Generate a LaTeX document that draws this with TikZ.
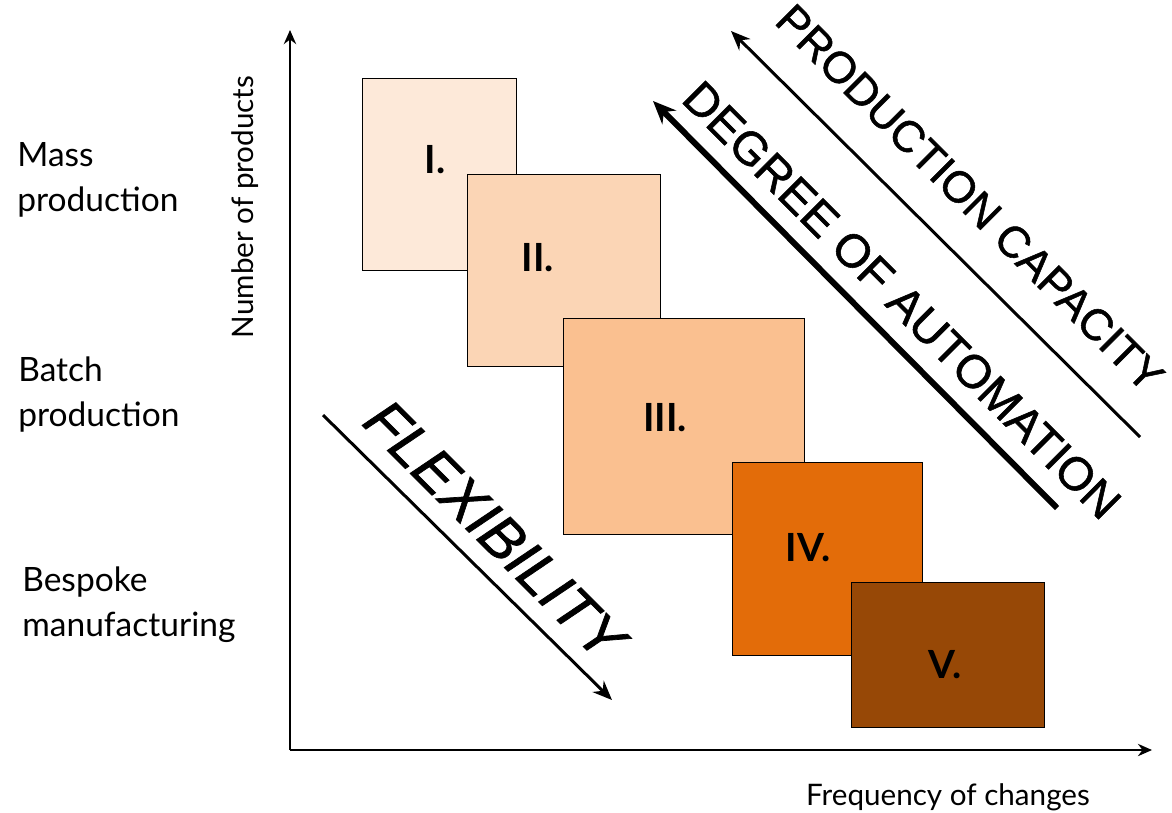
\documentclass[tikz,border=0pt]{standalone}
\usepackage{fontspec}
\setmainfont{Liberation Sans}
\newfontfamily\labelfont{Lato}
\newfontfamily\trenfont[FakeBold=1.2]{Liberation Sans}
\usetikzlibrary{arrows.meta, positioning}
\definecolor{faseA}{HTML}{FDE9D9}
\definecolor{faseB}{HTML}{FBD5B5}
\definecolor{faseC}{HTML}{FAC090}
\definecolor{faseD}{HTML}{E36C09}
\definecolor{faseE}{HTML}{974806}

\begin{document}
\begin{tikzpicture}[
  x=0.567pt, y=-0.567pt,
  fase/.style={draw, line width=0.6pt, anchor=north west, inner sep=0pt},
  nomor/.style={font=\labelfont\bfseries\fontsize{22}{26}\selectfont},
  jenis/.style={anchor=west, align=left, inner sep=0pt,
    font=\labelfont\fontsize{19}{25.5}\selectfont},
  judulSumbu/.style={font=\labelfont\fontsize{16.8}{19}\selectfont},
  miring/.style={rotate=-45, inner sep=0pt},
  sumbu/.style={-{Stealth[length=8pt,width=7pt]}, line width=1.1pt},
  panah/.style={-{Stealth[length=11pt,width=9pt]}, line width=1.7pt},
  panahTebal/.style={-{Stealth[length=13pt,width=11pt]}, line width=3.4pt}
]
  \useasboundingbox (0,0) rectangle (1172,812);

  % axes
  \coordinate (asal) at (290,750);
  \coordinate (ujungY) at (290,30);
  \coordinate (ujungX) at (1152,750);
  \draw[sumbu] (asal) -- (ujungY);
  \draw[sumbu] (asal) -- (ujungX);
  \node[judulSumbu, rotate=90] (sumbuY) at (245,207) {Number of products};
  \node[judulSumbu] (sumbuX) at (948,797) {Frequency of changes};

  % production types
  \node[jenis] (massal) at (17,180) {Mass\\production};
  \node[jenis] (batch) at (18,395) {Batch\\production};
  \node[jenis] (pesanan) at (22,605) {Bespoke\\manufacturing};

  % phases
  \node[fase, fill=faseA, minimum width=87.3pt, minimum height=108.9pt] (f1) at (362,78) {};
  \node[nomor] at (435,160) {I.};
  \node[fase, fill=faseB, minimum width=109.4pt, minimum height=108.9pt] (f2) at (467,174) {};
  \node[nomor] at (538,258) {II.};
  \node[fase, fill=faseC, minimum width=136.6pt, minimum height=122.5pt] (f3) at (563,318) {};
  \node[nomor] at (665,418) {III.};
  \node[fase, fill=faseD, minimum width=107.7pt, minimum height=109.4pt] (f4) at (732,462) {};
  \node[nomor] at (808,548) {IV.};
  \node[fase, fill=faseE, minimum width=109.4pt, minimum height=82.2pt] (f5) at (851,582) {};
  \node[nomor] at (945,665) {V.};

  % trends
  \coordinate (flexA) at (323,415);
  \coordinate (flexB) at (612,700);
  \draw[panah] (flexA) -- (flexB);
  \node[miring, font=\trenfont\itshape\fontsize{33}{36}\selectfont] (teksFlex) at (495,530) {FLEXIBILITY};

  \coordinate (kapA) at (1140,437);
  \coordinate (kapB) at (731,31);
  \draw[panah] (kapA) -- (kapB);
  \node[miring, font=\trenfont\fontsize{25}{28}\selectfont] (teksKap) at (970,198) {PRODUCTION CAPACITY};

  \coordinate (otoA) at (1057,508);
  \coordinate (otoB) at (653,101);
  \draw[panahTebal] (otoA) -- (otoB);
  \node[miring, font=\trenfont\fontsize{26.5}{30}\selectfont] (teksOto) at (902,300) {DEGREE OF AUTOMATION};
\end{tikzpicture}
\end{document}
